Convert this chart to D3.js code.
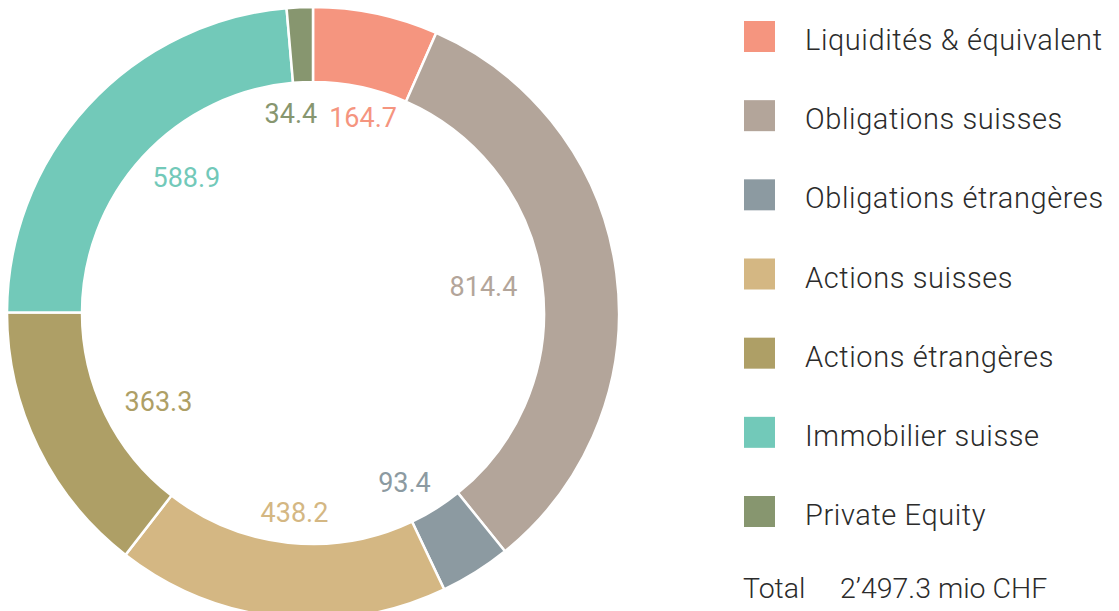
<!DOCTYPE html>
<html>
<head>
<meta charset="utf-8">
<script src="https://cdn.jsdelivr.net/npm/d3@7"></script>
<style>
  body { margin: 0; background: #fff; }
  svg { display: block; font-family: Roboto, "Noto Sans", sans-serif; }
</style>
</head>
<body>
<svg></svg>
<script>
var width = 1119;
var height = 611;

// data
var categories = ['Liquidités & équivalent', 'Obligations suisses', 'Obligations étrangères',
  'Actions suisses', 'Actions étrangères', 'Immobilier suisse', 'Private Equity'];
var values = [164.7, 814.4, 93.4, 438.2, 363.3, 588.9, 34.4];
var colors = ['#f5957f', '#b3a59a', '#8c9aa1', '#d4b783', '#ae9f66', '#72c9b9', '#87966f'];
var totalLabel = 'Total';
var totalValue = '2’497.3 mio CHF';

var svg = d3.select('svg')
  .attr('width', width)
  .attr('height', height);

var cx = 313, cy = 313;
var outerR = 306, innerR = 231;

var color = d3.scaleOrdinal().domain(categories).range(colors);

var pie = d3.pie().sort(null).value(function(d) { return d.value; });
var data = categories.map(function(c, i) { return { name: c, value: values[i] }; });
var arcs = pie(data);

var arc = d3.arc().innerRadius(innerR).outerRadius(outerR);

var g = svg.append('g').attr('transform', 'translate(' + cx + ',' + cy + ')');

g.selectAll('path')
  .data(arcs)
  .enter().append('path')
    .attr('d', arc)
    .attr('fill', function(d) { return color(d.data.name); })
    .attr('stroke', '#fff')
    .attr('stroke-width', 2.5);

// value labels inside the hole
var rx = 172, ry = 200;
var labels = g.selectAll('text.val')
  .data(arcs)
  .enter().append('text')
    .attr('class', 'val')
    .attr('text-anchor', 'middle')
    .attr('dy', '0.36em')
    .attr('font-size', 27)
    .attr('fill', function(d) { return color(d.data.name); })
    .text(function(d) { return d3.format('.1f')(d.data.value); });

var pos = arcs.map(function(d) {
  var a = (d.startAngle + d.endAngle) / 2;
  return { x: rx * Math.sin(a), y: -ry * Math.cos(a) };
});
var widths = [];
labels.each(function(d, i) { widths[i] = this.getComputedTextLength(); });

// push apart labels that overlap
for (var k = 0; k < 20; k++) {
  for (var i = 0; i < pos.length; i++) {
    for (var j = i + 1; j < pos.length; j++) {
      var need = (widths[i] + widths[j]) / 2 + 12;
      var dx = pos[j].x - pos[i].x;
      if (Math.abs(pos[j].y - pos[i].y) < 24 && Math.abs(dx) < need) {
        var s = (need - Math.abs(dx)) / 2 * (dx < 0 ? -1 : 1);
        pos[i].x -= s;
        pos[j].x += s;
      }
    }
  }
}
labels
  .attr('x', function(d, i) { return pos[i].x; })
  .attr('y', function(d, i) { return pos[i].y; });

// legend
var legendY = d3.scalePoint().domain(categories).range([21, 496]);

var legend = svg.append('g').selectAll('g')
  .data(categories)
  .enter().append('g')
    .attr('transform', function(d) { return 'translate(744,' + legendY(d) + ')'; });

legend.append('rect')
  .attr('width', 31)
  .attr('height', 31)
  .attr('fill', function(d) { return color(d); });

legend.append('text')
  .attr('x', 61)
  .attr('y', 29)
  .attr('font-size', 29)
  .attr('font-weight', 300)
  .attr('letter-spacing', 0.6)
  .attr('fill', '#2b2b2b')
  .text(function(d) { return d; });

svg.append('text')
  .attr('x', 743)
  .attr('y', 598)
  .attr('font-size', 28.5)
  .attr('font-weight', 300)
  .attr('fill', '#2b2b2b')
  .text(totalLabel);

svg.append('text')
  .attr('x', 840)
  .attr('y', 598)
  .attr('font-size', 28.5)
  .attr('font-weight', 300)
  .attr('fill', '#2b2b2b')
  .text(totalValue);
</script>
</body>
</html>
